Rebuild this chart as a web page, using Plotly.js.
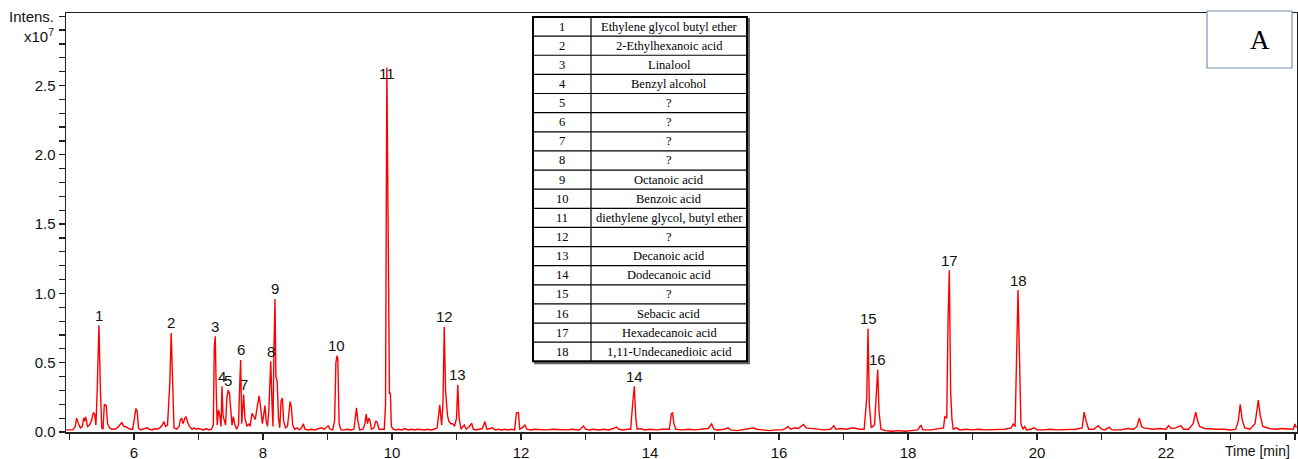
<!DOCTYPE html>
<html>
<head>
<meta charset="utf-8">
<script src="https://cdn.plot.ly/plotly-3.0.1.min.js"></script>
<style>html,body{margin:0;padding:0;background:#fff;}#chart{width:1298px;height:459px;}</style>
</head>
<body>
<div id="chart"></div>
<script>
// Retention time (min) and intensity (x10^7) of the chromatogram trace
const time = [4.95,4.98,5.05,5.09,5.11,5.14,5.17,5.20,5.22,5.24,5.25,5.28,5.31,5.34,5.37,5.39,5.41,5.43,5.457,5.48,5.50,5.52,5.54,5.57,5.59,5.62,5.66,5.70,5.74,5.78,5.81,5.84,5.87,5.90,5.94,5.98,6.01,6.03,6.05,6.07,6.10,6.15,6.20,6.24,6.28,6.32,6.36,6.40,6.44,6.465,6.49,6.52,6.555,6.577,6.60,6.62,6.66,6.70,6.72,6.74,6.76,6.79,6.81,6.83,6.86,6.90,6.93,6.96,7.00,7.04,7.08,7.12,7.16,7.20,7.23,7.245,7.26,7.275,7.29,7.31,7.33,7.35,7.364,7.38,7.40,7.42,7.44,7.46,7.48,7.50,7.52,7.54,7.56,7.59,7.62,7.64,7.654,7.67,7.69,7.70,7.72,7.75,7.78,7.80,7.83,7.86,7.88,7.91,7.94,7.97,7.99,8.01,8.03,8.05,8.07,8.09,8.12,8.14,8.155,8.17,8.186,8.20,8.22,8.24,8.26,8.28,8.30,8.32,8.35,8.38,8.42,8.44,8.46,8.49,8.53,8.56,8.60,8.625,8.65,8.70,8.75,8.80,8.85,8.90,8.95,9.01,9.04,9.08,9.11,9.13,9.147,9.16,9.18,9.21,9.26,9.31,9.36,9.41,9.45,9.47,9.50,9.55,9.58,9.60,9.62,9.64,9.66,9.68,9.72,9.75,9.77,9.80,9.84,9.88,9.90,9.92,9.945,9.96,9.975,9.99,10.02,10.06,10.10,10.15,10.20,10.25,10.30,10.35,10.40,10.45,10.50,10.55,10.60,10.65,10.70,10.74,10.77,10.79,10.81,10.83,10.86,10.88,10.91,10.94,10.97,11.00,11.02,11.04,11.07,11.10,11.12,11.15,11.20,11.235,11.26,11.30,11.35,11.40,11.44,11.47,11.52,11.56,11.60,11.65,11.70,11.75,11.80,11.85,11.90,11.93,11.96,11.98,12.02,12.06,12.09,12.15,12.20,12.30,12.40,12.50,12.60,12.70,12.80,12.90,12.94,12.97,13.00,13.06,13.12,13.20,13.28,13.36,13.43,13.48,13.52,13.58,13.65,13.70,13.73,13.757,13.78,13.80,13.85,13.92,14.00,14.10,14.20,14.30,14.33,14.35,14.37,14.40,14.50,14.60,14.70,14.80,14.90,14.955,14.99,15.05,15.15,15.21,15.25,15.35,15.45,15.55,15.60,15.65,15.75,15.85,15.95,16.05,16.10,16.14,16.18,16.25,16.30,16.34,16.38,16.42,16.50,16.60,16.70,16.80,16.85,16.88,16.95,17.05,17.15,17.25,17.32,17.36,17.38,17.40,17.43,17.48,17.51,17.53,17.55,17.58,17.65,17.75,17.85,17.95,18.05,18.15,18.20,18.23,18.35,18.45,18.55,18.57,18.60,18.62,18.64,18.66,18.68,18.70,18.75,18.80,18.90,19.00,19.10,19.20,19.30,19.40,19.50,19.60,19.63,19.66,19.685,19.705,19.725,19.75,19.78,19.81,19.84,19.90,19.95,20.00,20.10,20.20,20.30,20.40,20.50,20.60,20.70,20.73,20.76,20.80,20.88,20.95,21.00,21.05,21.12,21.16,21.30,21.40,21.50,21.55,21.585,21.62,21.65,21.70,21.80,21.90,22.00,22.04,22.08,22.15,22.23,22.27,22.35,22.42,22.46,22.49,22.52,22.60,22.70,22.80,22.90,23.00,23.08,23.12,23.15,23.18,23.22,23.30,23.38,23.43,23.46,23.50,23.60,23.70,23.80,23.90,23.97,24.00,24.02];
const intensity = [0.015,0.015,0.015,0.04,0.10,0.06,0.03,0.04,0.10,0.08,0.11,0.04,0.05,0.08,0.14,0.13,0.05,0.30,0.77,0.30,0.03,0.02,0.20,0.19,0.06,0.03,0.02,0.02,0.03,0.05,0.07,0.04,0.04,0.03,0.02,0.02,0.10,0.17,0.15,0.03,0.015,0.02,0.03,0.02,0.015,0.025,0.02,0.03,0.05,0.075,0.04,0.05,0.35,0.715,0.30,0.03,0.02,0.04,0.09,0.10,0.06,0.10,0.11,0.07,0.04,0.02,0.03,0.02,0.025,0.02,0.015,0.025,0.015,0.02,0.05,0.62,0.69,0.30,0.05,0.16,0.12,0.04,0.33,0.12,0.08,0.05,0.25,0.30,0.28,0.12,0.05,0.11,0.06,0.02,0.05,0.35,0.52,0.06,0.20,0.27,0.10,0.04,0.06,0.04,0.135,0.11,0.09,0.18,0.26,0.15,0.06,0.12,0.19,0.08,0.04,0.15,0.51,0.20,0.04,0.60,0.96,0.40,0.365,0.10,0.03,0.22,0.245,0.08,0.03,0.04,0.22,0.18,0.05,0.02,0.03,0.015,0.03,0.06,0.02,0.015,0.02,0.015,0.02,0.03,0.02,0.045,0.02,0.015,0.08,0.50,0.55,0.53,0.06,0.015,0.015,0.02,0.015,0.02,0.175,0.08,0.015,0.02,0.06,0.13,0.06,0.10,0.08,0.02,0.03,0.08,0.07,0.02,0.02,0.02,0.20,2.63,1.20,0.28,0.28,0.04,0.02,0.015,0.02,0.015,0.025,0.015,0.02,0.015,0.02,0.015,0.015,0.02,0.015,0.02,0.03,0.195,0.05,0.20,0.76,0.30,0.12,0.08,0.06,0.06,0.04,0.10,0.34,0.10,0.02,0.04,0.05,0.02,0.04,0.063,0.02,0.015,0.02,0.025,0.075,0.02,0.025,0.03,0.015,0.02,0.015,0.02,0.015,0.02,0.015,0.14,0.14,0.02,0.03,0.05,0.02,0.015,0.02,0.015,0.015,0.02,0.015,0.015,0.02,0.015,0.03,0.043,0.02,0.015,0.02,0.015,0.02,0.015,0.025,0.035,0.02,0.015,0.02,0.02,0.20,0.33,0.10,0.02,0.025,0.015,0.02,0.015,0.02,0.02,0.13,0.14,0.06,0.02,0.015,0.02,0.015,0.02,0.025,0.058,0.02,0.015,0.02,0.03,0.015,0.01,0.015,0.025,0.03,0.02,0.015,0.01,0.015,0.015,0.025,0.04,0.02,0.03,0.025,0.04,0.055,0.03,0.025,0.02,0.015,0.02,0.045,0.02,0.025,0.02,0.03,0.02,0.02,0.25,0.745,0.20,0.03,0.05,0.35,0.45,0.15,0.02,0.01,0.005,0.01,0.005,0.01,0.015,0.05,0.015,0.015,0.02,0.03,0.11,0.10,0.80,1.167,0.30,0.10,0.02,0.03,0.015,0.02,0.015,0.02,0.015,0.015,0.015,0.02,0.03,0.058,0.04,0.50,1.024,0.60,0.06,0.02,0.04,0.015,0.02,0.03,0.015,0.015,0.02,0.015,0.015,0.015,0.02,0.03,0.143,0.08,0.02,0.02,0.046,0.02,0.015,0.035,0.015,0.015,0.025,0.02,0.04,0.10,0.04,0.03,0.025,0.02,0.025,0.02,0.046,0.025,0.03,0.046,0.02,0.02,0.06,0.143,0.08,0.04,0.025,0.02,0.02,0.02,0.015,0.02,0.08,0.20,0.09,0.03,0.02,0.06,0.23,0.12,0.04,0.025,0.02,0.025,0.02,0.02,0.058,0.03];

// Labelled peaks
const peakIds = ['1','2','3','4','5','6','7','8','9','10','11','12','13','14','15','16','17','18'];
const peakTimes = [5.457,6.577,7.26,7.364,7.46,7.654,7.70,8.12,8.186,9.147,9.92,10.81,11.02,13.757,17.38,17.53,18.64,19.705];
const peakHeights = [0.77,0.715,0.69,0.33,0.30,0.52,0.27,0.51,0.96,0.55,2.63,0.76,0.34,0.33,0.745,0.45,1.167,1.024];

// Compound table
const compoundNames = ['Ethylene glycol butyl ether','2-Ethylhexanoic acid','Linalool','Benzyl alcohol','?','?','?','?','Octanoic acid','Benzoic acid','diethylene glycol, butyl ether','?','Decanoic acid','Dodecanoic acid','?','Sebacic acid','Hexadecanoic acid','1,11-Undecanedioic acid'];

// Axis ticks
const xTickVals = [6,8,10,12,14,16,18,20,22];
const yTickVals = [0,0.5,1.0,1.5,2.0,2.5];
const yTickText = ['0.0','0.5','1.0','1.5','2.0','2.5'];

const M = {l:66, r:1, t:13, b:27};
const W = 1298, H = 459;
const pw = W - M.l - M.r, ph = H - M.t - M.b;
const fx = p => (p - M.l) / pw;           // pixel x -> paper
const fy = p => (H - M.b - p) / ph;        // pixel y -> paper

const shapes = [];
const annotations = [];
const SANS = 'Liberation Sans, Arial, sans-serif';
const SERIF = 'Liberation Serif, Times New Roman, serif';

// peak labels
peakIds.forEach((id, i) => {
  annotations.push({x: peakTimes[i], y: peakHeights[i], xref:'x', yref:'y', text: id, showarrow:false,
    yanchor:'middle', yshift: id === '11' ? -6 : 10,
    font:{family:SANS, size:15, color:'#111'}});
});

// axis title annotations
annotations.push({xref:'paper', yref:'y', x:0, y:3.0, xanchor:'right', yanchor:'middle', xshift:-10, showarrow:false,
  text:'Intens.', font:{family:SANS, size:15, color:'#111'}});
annotations.push({xref:'paper', yref:'y', x:0, y:2.86, xanchor:'right', yanchor:'middle', xshift:-10, showarrow:false,
  text:'x10<sup>7</sup>', font:{family:SANS, size:15, color:'#111'}});
annotations.push({xref:'paper', yref:'paper', x:fx(1257), y:fy(451), xanchor:'center', yanchor:'middle', showarrow:false,
  text:'Time [min]', font:{family:SANS, size:14, color:'#111'}});

// compound table
const tx0 = 533, tx1 = 747, tcol = 591, ty0 = 17, rowH = 19.13;
const ty1 = ty0 + rowH * compoundNames.length;
shapes.push({type:'rect', xref:'paper', yref:'paper', x0:fx(tx0+2), x1:fx(tx1+2), y0:fy(ty1+2), y1:fy(ty0+2),
  line:{color:'#666', width:2}, fillcolor:'#666', layer:'above'});
shapes.push({type:'rect', xref:'paper', yref:'paper', x0:fx(tx0), x1:fx(tx1), y0:fy(ty1), y1:fy(ty0),
  line:{color:'#000', width:2}, fillcolor:'#fff', layer:'above'});
shapes.push({type:'line', xref:'paper', yref:'paper', x0:fx(tcol), x1:fx(tcol), y0:fy(ty1), y1:fy(ty0),
  line:{color:'#000', width:1.2}, layer:'above'});
compoundNames.forEach((name, i) => {
  const yc = ty0 + rowH * (i + 0.5);
  if (i > 0) {
    const yl = ty0 + rowH * i;
    shapes.push({type:'line', xref:'paper', yref:'paper', x0:fx(tx0), x1:fx(tx1), y0:fy(yl), y1:fy(yl),
      line:{color:'#000', width:1.2}, layer:'above'});
  }
  annotations.push({xref:'paper', yref:'paper', x:fx((tx0+tcol)/2), y:fy(yc), text:peakIds[i], showarrow:false,
    xanchor:'center', yanchor:'middle', font:{family:SERIF, size:12.5, color:'#000'}});
  annotations.push({xref:'paper', yref:'paper', x:fx((tcol+tx1)/2), y:fy(yc), text:name, showarrow:false,
    xanchor:'center', yanchor:'middle', font:{family:SERIF, size:12.5, color:'#000'}});
});

// panel label box
shapes.push({type:'rect', xref:'paper', yref:'paper', x0:fx(1207), x1:fx(1292), y0:fy(68), y1:fy(11),
  line:{color:'#7d91b0', width:1.2}, fillcolor:'#fff', layer:'above'});
annotations.push({xref:'paper', yref:'paper', x:fx(1260), y:fy(40), text:'A', showarrow:false,
  xanchor:'center', yanchor:'middle', font:{family:SERIF, size:27, color:'#000'}});

const trace = {x: time, y: intensity, type:'scatter', mode:'lines',
  line:{color:'#ff0000', width:1.4}, hoverinfo:'skip', showlegend:false};

const layout = {
  width: W, height: H, margin: M,
  paper_bgcolor:'#fff', plot_bgcolor:'#fff', showlegend:false,
  font:{family:SANS, size:15, color:'#111'},
  xaxis:{range:[4.946, 24.03], tickmode:'array', tickvals:xTickVals, ticktext:xTickVals.map(String),
    ticks:'outside', ticklen:6, tickwidth:1.2, tickcolor:'#222',
    minor:{tickmode:'linear', tick0:5, dtick:1, ticks:'outside', ticklen:6, tickwidth:1.2, tickcolor:'#222', showgrid:false},
    showline:true, linecolor:'#222', linewidth:1.5, mirror:true, showgrid:false, zeroline:false,
    tickfont:{family:SANS, size:15, color:'#111'}, fixedrange:true},
  yaxis:{range:[0, 3.023], tickmode:'array', tickvals:yTickVals, ticktext:yTickText,
    ticks:'outside', ticklen:6, tickwidth:1.2, tickcolor:'#222',
    minor:{tickmode:'linear', tick0:0, dtick:0.1, ticks:'outside', ticklen:6, tickwidth:1.2, tickcolor:'#222', showgrid:false},
    showline:true, linecolor:'#222', linewidth:1.5, mirror:true, showgrid:false, zeroline:false,
    tickfont:{family:SANS, size:15, color:'#111'}, fixedrange:true},
  shapes: shapes,
  annotations: annotations
};

Plotly.newPlot('chart', [trace], layout, {displayModeBar:false, staticPlot:true});
</script>
</body>
</html>
